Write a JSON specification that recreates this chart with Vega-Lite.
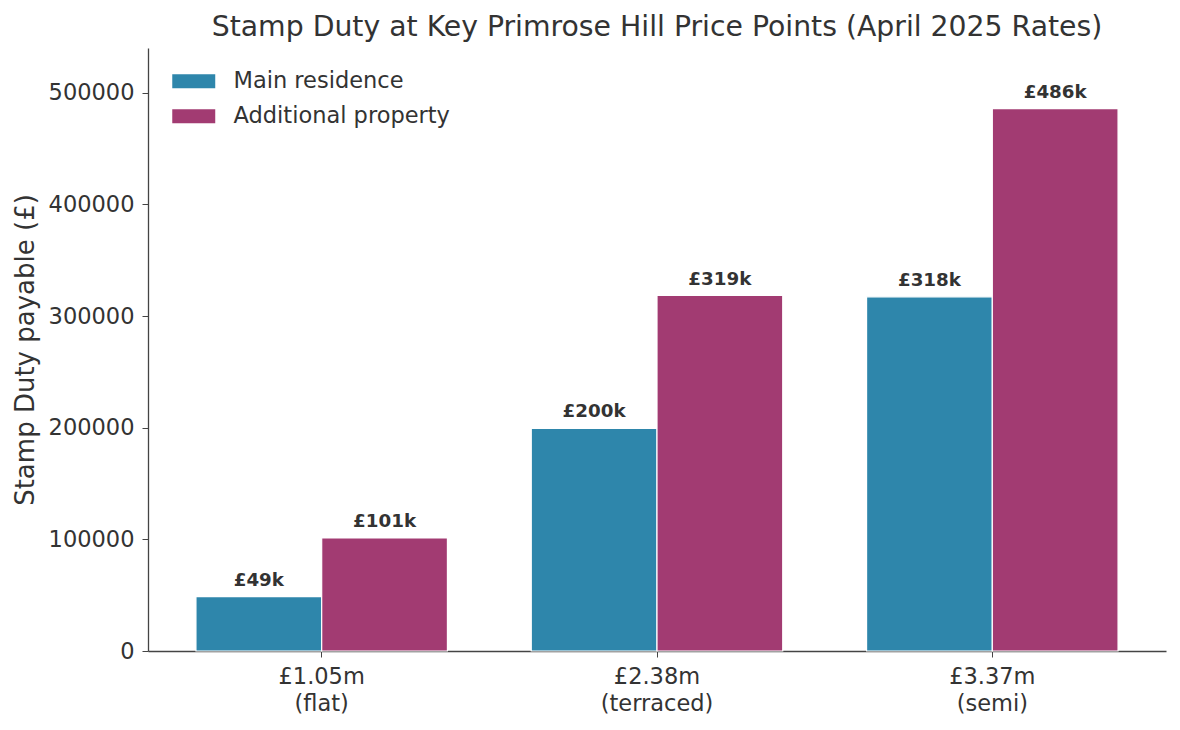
{
  "$schema": "https://vega.github.io/schema/vega-lite/v6.json",
  "width": 1018,
  "height": 603,
  "autosize": {"type": "none"},
  "padding": {"left": 148, "top": 48, "right": 14, "bottom": 79},
  "title": {"text": "Stamp Duty at Key Primrose Hill Price Points (April 2025 Rates)", "fontSize": 28.3, "fontWeight": "normal", "color": "#333333", "font": "DejaVu Sans", "offset": 5.5, "anchor": "middle"},
  "data": {"values": [
    {"price": "£1.05m\n(flat)", "type": "Main residence", "duty": 48750, "label": "£49k"},
    {"price": "£1.05m\n(flat)", "type": "Additional property", "duty": 101250, "label": "£101k"},
    {"price": "£2.38m\n(terraced)", "type": "Main residence", "duty": 199350, "label": "£200k"},
    {"price": "£2.38m\n(terraced)", "type": "Additional property", "duty": 318350, "label": "£319k"},
    {"price": "£3.37m\n(semi)", "type": "Main residence", "duty": 317150, "label": "£318k"},
    {"price": "£3.37m\n(semi)", "type": "Additional property", "duty": 485650, "label": "£486k"}
  ]},
  "encoding": {
    "x": {"field": "price", "type": "nominal", "sort": ["£1.05m\n(flat)", "£2.38m\n(terraced)", "£3.37m\n(semi)"],
      "scale": {"paddingInner": 0.25, "paddingOuter": 0.143},
      "axis": {"title": null, "labelExpr": "split(datum.label, '\\n')", "labelFontSize": 22.5, "labelColor": "#333333", "labelLineHeight": 27, "labelPadding": 8, "tickSize": 6, "tickColor": "#444444", "domainColor": "#444444", "domainWidth": 1.3, "labelAngle": 0, "grid": false}},
    "xOffset": {"field": "type", "type": "nominal", "sort": ["Main residence", "Additional property"], "scale": {"paddingInner": 0, "paddingOuter": 0}},
    "y": {"field": "duty", "type": "quantitative", "scale": {"domain": [0, 540000], "nice": false},
      "axis": {"title": "Stamp Duty payable (£)", "titleFontSize": 26, "titleFontWeight": "normal", "titleColor": "#333333", "titlePadding": 10, "values": [0, 100000, 200000, 300000, 400000, 500000], "format": "d", "labelFontSize": 22.5, "labelColor": "#333333", "tickSize": 6, "tickColor": "#444444", "labelPadding": 8, "grid": false, "domainColor": "#444444", "domainWidth": 1.3}}
  },
  "layer": [
    {"mark": {"type": "bar", "stroke": "white", "strokeWidth": 1.2},
     "encoding": {"color": {"field": "type", "type": "nominal", "sort": ["Main residence", "Additional property"],
       "scale": {"domain": ["Main residence", "Additional property"], "range": ["#2E86AB", "#A23B72"]},
       "legend": {"title": null, "orient": "none", "legendX": 19.5, "legendY": 22, "symbolType": "M-3.07,-1H3.07V1H-3.07Z", "symbolSize": 196, "symbolOffset": 15, "labelOffset": 28.5, "labelFontSize": 22.5, "labelLimit": 0, "labelColor": "#333333", "rowPadding": 12, "symbolStrokeWidth": 0, "symbolOpacity": 1, "padding": 0}}}},
    {"mark": {"type": "text", "fontWeight": "bold", "fontSize": 18.3, "dy": -11, "baseline": "alphabetic", "color": "#333333"},
     "encoding": {"text": {"field": "label"}}}
  ],
  "config": {"view": {"stroke": null}, "font": "DejaVu Sans"}
}
